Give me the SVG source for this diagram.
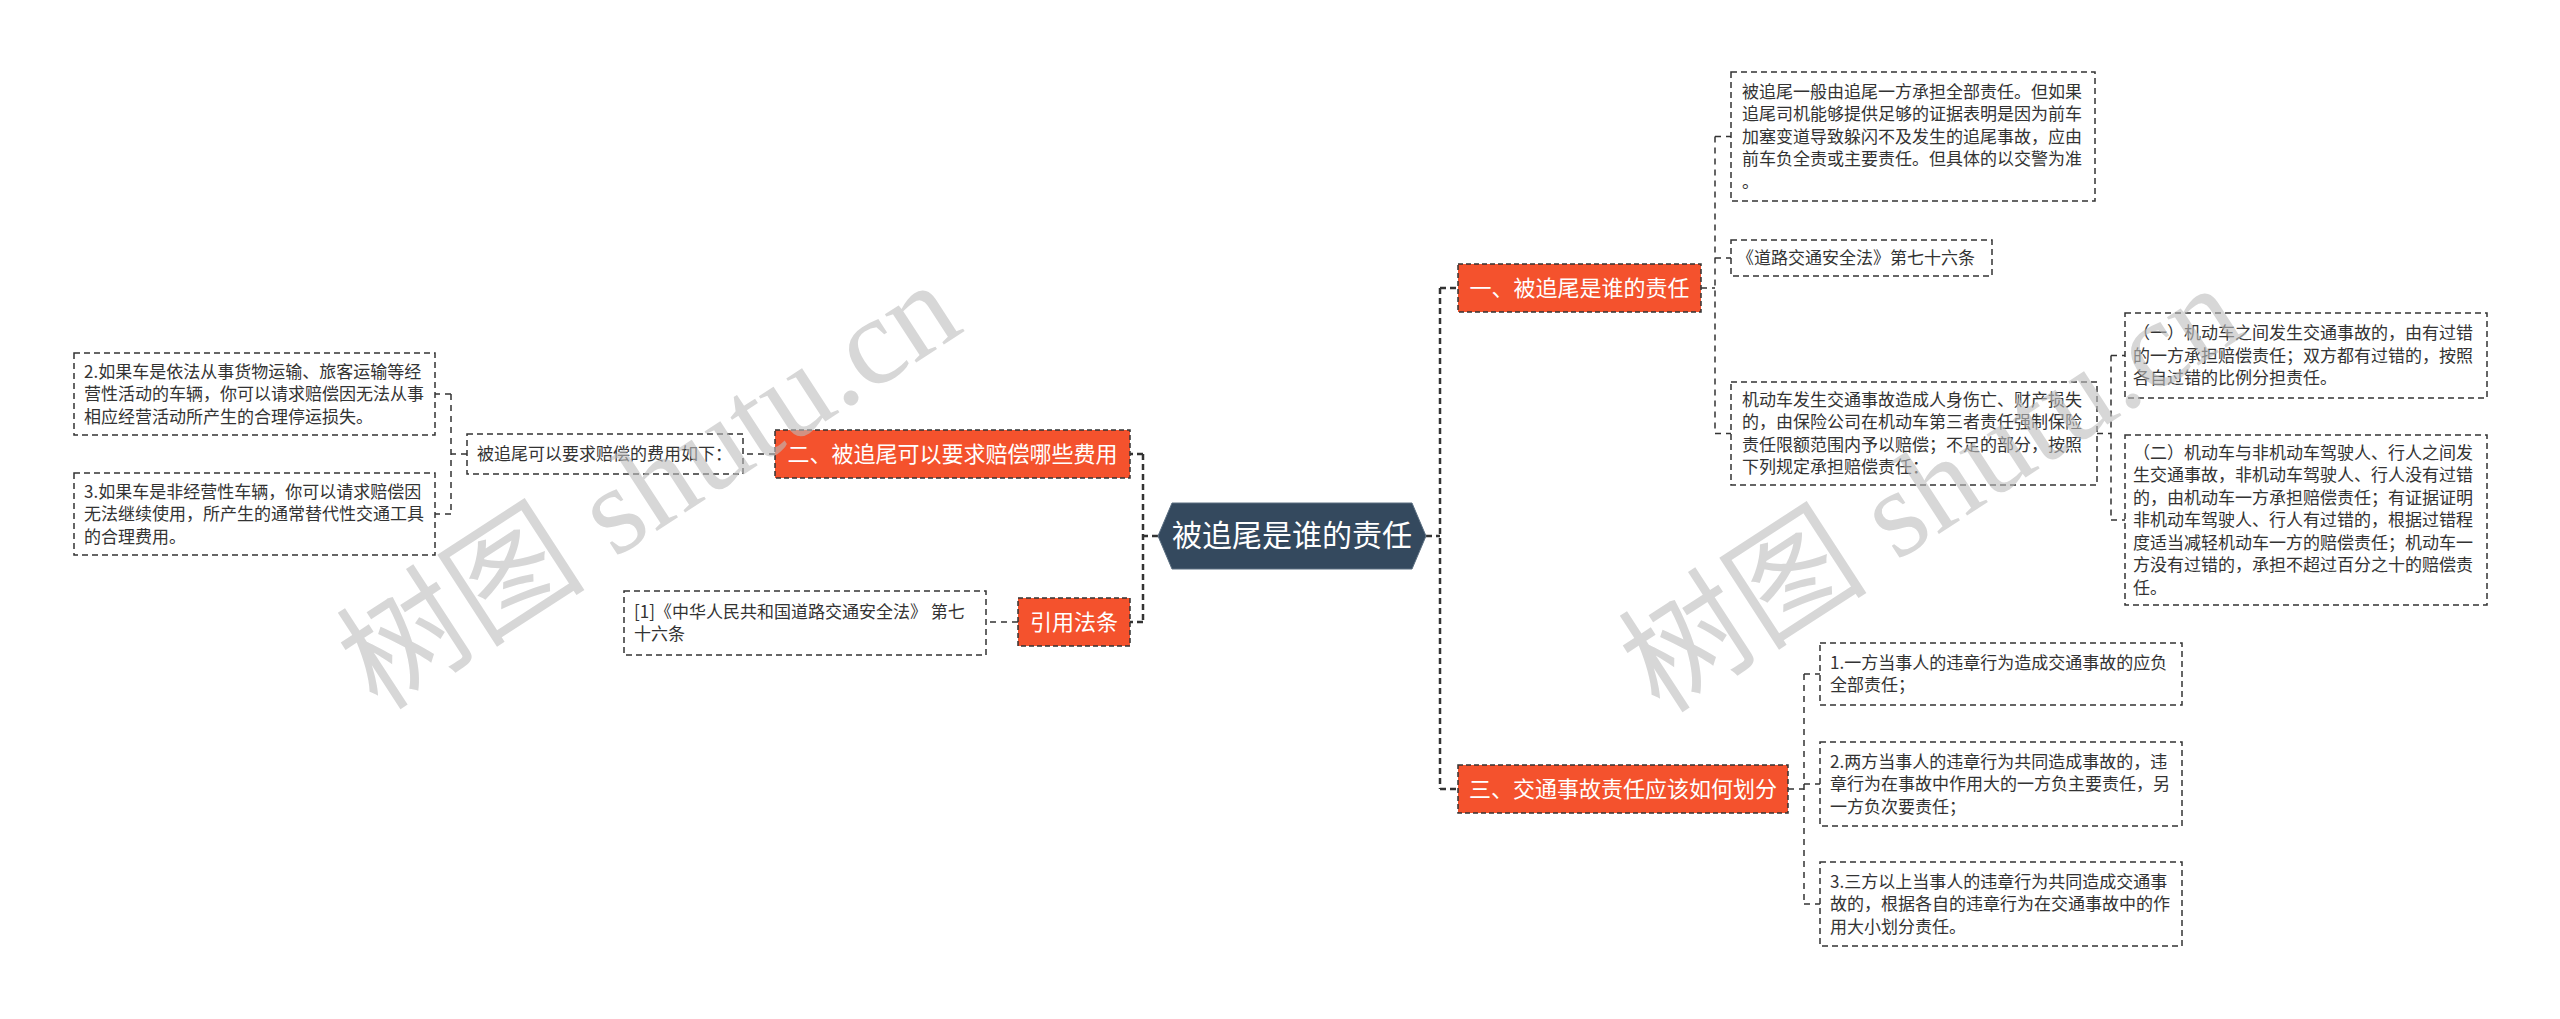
<svg xmlns="http://www.w3.org/2000/svg" width="2560" height="1019" viewBox="0 0 2560 1019">
<style>
.t{font-family:"Noto Sans CJK SC","Noto Sans",sans-serif;font-size:17px;fill:#333}
.bt{font-family:"Noto Sans CJK SC","Noto Sans",sans-serif;font-size:22px;fill:#fff;text-anchor:middle}
.ct{font-family:"Noto Sans CJK SC","Noto Sans",sans-serif;font-size:30px;fill:#fff;text-anchor:middle}
.leaf{fill:#fff;stroke:#333;stroke-width:1.5;stroke-dasharray:6 4}
.br{fill:#f4522d;stroke:#333;stroke-width:1.5;stroke-dasharray:5 3}
.c1{fill:none;stroke:#333;stroke-width:2.5;stroke-dasharray:6 4}
.c2{fill:none;stroke:#333;stroke-width:1.5;stroke-dasharray:6 5}
.wm{font-family:"Liberation Serif","Noto Sans CJK SC",serif;font-size:125px;fill:#bdbdbd;opacity:0.6}
</style>
<rect width="2560" height="1019" fill="#fff"/>
<g id="connectors">
<path class="c1" d="M1426 536H1440M1440 288V789M1440 288H1458M1440 789H1458"/>
<path class="c1" d="M1158 536H1143M1143 454V622M1143 454H1130M1143 622H1130"/>
<path class="c2" d="M1701 288H1715M1715 136.5V433.5M1715 136.5H1731M1715 258H1731M1715 433.5H1731"/>
<path class="c2" d="M2097 433.5H2111M2111 355.5V520M2111 355.5H2125M2111 520H2125"/>
<path class="c2" d="M1788 789H1804M1804 674V904M1804 674H1820M1804 784H1820M1804 904H1820"/>
<path class="c2" d="M775 454H743"/>
<path class="c2" d="M467 454H451M451 394V514M451 394H435M451 514H435"/>
<path class="c2" d="M1018 622H986"/>
</g>
<g id="center">
<polygon points="1158,536 1172,503 1412,503 1426,536 1412,569 1172,569" fill="#34495e" stroke="#5a6e80" stroke-width="1"/>
<text class="ct" x="1292" y="546">被追尾是谁的责任</text>
</g>
<g id="b1">
<rect class="br" x="1458" y="264" width="243" height="48"/>
<text class="bt" x="1579.5" y="296">一、被追尾是谁的责任</text>
</g>
<g id="b2">
<rect class="br" x="775" y="430" width="355" height="48"/>
<text class="bt" x="952.5" y="462">二、被追尾可以要求赔偿哪些费用</text>
</g>
<g id="b3">
<rect class="br" x="1458" y="765" width="330" height="48"/>
<text class="bt" x="1623" y="797">三、交通事故责任应该如何划分</text>
</g>
<g id="b4">
<rect class="br" x="1018" y="598" width="112" height="48"/>
<text class="bt" x="1074" y="630">引用法条</text>
</g>
<g id="r1">
<rect class="leaf" x="1731" y="72" width="364" height="129"/>
<text class="t" x="1742"><tspan x="1742" y="97.5">被追尾一般由追尾一方承担全部责任。但如果</tspan><tspan x="1742" y="120">追尾司机能够提供足够的证据表明是因为前车</tspan><tspan x="1742" y="142.5">加塞变道导致躲闪不及发生的追尾事故，应由</tspan><tspan x="1742" y="165">前车负全责或主要责任。但具体的以交警为准</tspan><tspan x="1742" y="187.5">。</tspan></text>
</g>
<g id="r2">
<rect class="leaf" x="1731" y="240" width="261" height="36"/>
<text class="t" x="1737" y="264">《道路交通安全法》第七十六条</text>
</g>
<g id="r3">
<rect class="leaf" x="1731" y="382" width="366" height="103"/>
<text class="t"><tspan x="1742" y="405.75">机动车发生交通事故造成人身伤亡、财产损失</tspan><tspan x="1742" y="428.25">的，由保险公司在机动车第三者责任强制保险</tspan><tspan x="1742" y="450.75">责任限额范围内予以赔偿；不足的部分，按照</tspan><tspan x="1742" y="473.25">下列规定承担赔偿责任：</tspan></text>
</g>
<g id="r3a">
<rect class="leaf" x="2125" y="313" width="362" height="85"/>
<text class="t"><tspan x="2133" y="339">（一）机动车之间发生交通事故的，由有过错</tspan><tspan x="2133" y="361.5">的一方承担赔偿责任；双方都有过错的，按照</tspan><tspan x="2133" y="384">各自过错的比例分担责任。</tspan></text>
</g>
<g id="r3b">
<rect class="leaf" x="2125" y="435" width="362" height="170"/>
<text class="t"><tspan x="2133" y="458.5">（二）机动车与非机动车驾驶人、行人之间发</tspan><tspan x="2133" y="481">生交通事故，非机动车驾驶人、行人没有过错</tspan><tspan x="2133" y="503.5">的，由机动车一方承担赔偿责任；有证据证明</tspan><tspan x="2133" y="526">非机动车驾驶人、行人有过错的，根据过错程</tspan><tspan x="2133" y="548.5">度适当减轻机动车一方的赔偿责任；机动车一</tspan><tspan x="2133" y="571">方没有过错的，承担不超过百分之十的赔偿责</tspan><tspan x="2133" y="593.5">任。</tspan></text>
</g>
<g id="t1">
<rect class="leaf" x="1820" y="643" width="362" height="62"/>
<text class="t"><tspan x="1830" y="668.75">1.一方当事人的违章行为造成交通事故的应负</tspan><tspan x="1830" y="691.25">全部责任；</tspan></text>
</g>
<g id="t2">
<rect class="leaf" x="1820" y="742" width="362" height="84"/>
<text class="t"><tspan x="1830" y="767.5">2.两方当事人的违章行为共同造成事故的，违</tspan><tspan x="1830" y="790">章行为在事故中作用大的一方负主要责任，另</tspan><tspan x="1830" y="812.5">一方负次要责任；</tspan></text>
</g>
<g id="t3">
<rect class="leaf" x="1820" y="862" width="362" height="84"/>
<text class="t"><tspan x="1830" y="887.5">3.三方以上当事人的违章行为共同造成交通事</tspan><tspan x="1830" y="910">故的，根据各自的违章行为在交通事故中的作</tspan><tspan x="1830" y="932.5">用大小划分责任。</tspan></text>
</g>
<g id="l0">
<rect class="leaf" x="467" y="434" width="276" height="40"/>
<text class="t" x="477" y="460">被追尾可以要求赔偿的费用如下：</text>
</g>
<g id="l1">
<rect class="leaf" x="74" y="353" width="361" height="82"/>
<text class="t"><tspan x="84" y="377.5">2.如果车是依法从事货物运输、旅客运输等经</tspan><tspan x="84" y="400">营性活动的车辆，你可以请求赔偿因无法从事</tspan><tspan x="84" y="422.5">相应经营活动所产生的合理停运损失。</tspan></text>
</g>
<g id="l2">
<rect class="leaf" x="74" y="473" width="361" height="82"/>
<text class="t"><tspan x="84" y="497.5">3.如果车是非经营性车辆，你可以请求赔偿因</tspan><tspan x="84" y="520">无法继续使用，所产生的通常替代性交通工具</tspan><tspan x="84" y="542.5">的合理费用。</tspan></text>
</g>
<g id="c1">
<rect class="leaf" x="624" y="591" width="362" height="64"/>
<text class="t"><tspan x="634" y="617.75">[1]《中华人民共和国道路交通安全法》 第七</tspan><tspan x="634" y="640.25">十六条</tspan></text>
</g>
<g id="watermarks">
<text class="wm" transform="translate(378 712) rotate(-33)">树图 shutu.cn</text>
<text class="wm" transform="translate(1660 715) rotate(-33)">树图 shutu.cn</text>
</g>
</svg>
